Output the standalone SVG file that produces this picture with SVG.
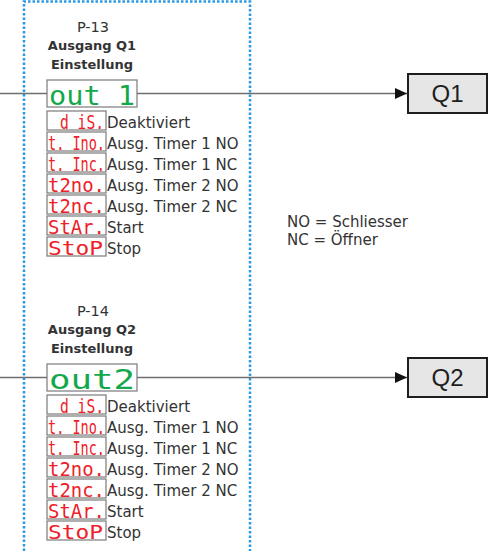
<svg xmlns="http://www.w3.org/2000/svg" width="493" height="551" viewBox="0 0 493 551">
  <style>
    .frame { fill: none; stroke: #2a98e2; stroke-width: 2.5; stroke-dasharray: 2.5 2; }
    .wire { fill: none; stroke: #6e6e6e; stroke-width: 1.5; }
    .title { font-family: "DejaVu Sans", sans-serif; font-size: 14.5px; fill: #333; text-anchor: middle; }
    .title-b { font-family: "DejaVu Sans", sans-serif; font-size: 13px; font-weight: bold; fill: #333; text-anchor: middle; }
    .lbl { font-family: "DejaVu Sans", sans-serif; font-size: 15px; fill: #333; }
    .disp { fill: #fff; stroke: #7a7a7a; stroke-width: 1.2; }
    .seg-g { font-family: "DejaVu Sans Mono", monospace; font-size: 27px; fill: #13a84a; }
    .seg-r { font-family: "DejaVu Sans Mono", monospace; font-size: 19px; fill: #ee2028; }
    .out { fill: #e6e6e6; stroke: #1e1e1e; stroke-width: 2; }
    .out-t { font-family: "Liberation Sans", sans-serif; font-size: 24px; fill: #1e1e1e; text-anchor: middle; }
  </style>
  <defs>
    <marker id="arrow" markerWidth="12" markerHeight="11" refX="12" refY="5.5" orient="auto" markerUnits="userSpaceOnUse">
      <path d="M0,0 L12,5.5 L0,11 Z" fill="#111"/>
    </marker>
    <!-- selectable options shown below each parameter's value display -->
    <g id="optionList">
      <rect class="disp" x="47" y="111" width="59" height="19"/>
      <text class="seg-r" x="104" y="128.5" text-anchor="end" textLength="44" lengthAdjust="spacingAndGlyphs">d iS.</text>
      <text class="lbl" x="107" y="128">Deaktiviert</text>
      <rect class="disp" x="47" y="132" width="59" height="19"/>
      <text class="seg-r" x="48" y="149.5" textLength="57" lengthAdjust="spacingAndGlyphs">t. Ino.</text>
      <text class="lbl" x="107" y="149">Ausg. Timer 1 NO</text>
      <rect class="disp" x="47" y="153" width="59" height="19"/>
      <text class="seg-r" x="48" y="170.5" textLength="57" lengthAdjust="spacingAndGlyphs">t. Inc.</text>
      <text class="lbl" x="107" y="170">Ausg. Timer 1 NC</text>
      <rect class="disp" x="47" y="174" width="59" height="19"/>
      <text class="seg-r" x="48" y="191.5" textLength="57" lengthAdjust="spacingAndGlyphs">t2no.</text>
      <text class="lbl" x="107" y="191">Ausg. Timer 2 NO</text>
      <rect class="disp" x="47" y="195" width="59" height="19"/>
      <text class="seg-r" x="48" y="212.5" textLength="57" lengthAdjust="spacingAndGlyphs">t2nc.</text>
      <text class="lbl" x="107" y="212">Ausg. Timer 2 NC</text>
      <rect class="disp" x="47" y="216" width="59" height="19"/>
      <text class="seg-r" x="48" y="233.5" textLength="57" lengthAdjust="spacingAndGlyphs">StAr.</text>
      <text class="lbl" x="107" y="233">Start</text>
      <rect class="disp" x="47" y="237" width="59" height="19"/>
      <text class="seg-r" x="48" y="254.5" textLength="55" lengthAdjust="spacingAndGlyphs">StoP</text>
      <text class="lbl" x="107" y="254">Stop</text>
    </g>
  </defs>

  <!-- dotted frame around the parameter column -->
  <path class="frame" d="M24,551 V1.5 H250 V551"/>

  <!-- connectors -->
  <g id="connectors">
    <line class="wire" x1="0" y1="93.5" x2="47" y2="93.5"/>
    <line class="wire" x1="137" y1="93.5" x2="407" y2="93.5" marker-end="url(#arrow)"/>
    <line class="wire" x1="0" y1="377.5" x2="47" y2="377.5"/>
    <line class="wire" x1="137" y1="377.5" x2="407" y2="377.5" marker-end="url(#arrow)"/>
  </g>

  <!-- P-13: output Q1 setting -->
  <g id="p13">
    <text class="title" x="93" y="32">P-13</text>
    <text class="title-b" x="92" y="50">Ausgang Q1</text>
    <text class="title-b" x="92" y="69">Einstellung</text>
    <rect class="disp" x="47" y="80" width="90" height="27"/>
    <text class="seg-g" x="49" y="104.5" textLength="86" lengthAdjust="spacingAndGlyphs">out 1</text>
    <use href="#optionList"/>
  </g>

  <!-- P-14: output Q2 setting -->
  <g id="p14">
    <text class="title" x="93" y="316">P-14</text>
    <text class="title-b" x="92" y="334">Ausgang Q2</text>
    <text class="title-b" x="92" y="353">Einstellung</text>
    <rect class="disp" x="47" y="364" width="90" height="27"/>
    <text class="seg-g" x="49" y="388.5" textLength="86" lengthAdjust="spacingAndGlyphs">out2</text>
    <use href="#optionList" transform="translate(0,284)"/>
  </g>

  <!-- outputs -->
  <g id="q1">
    <rect class="out" x="408" y="74" width="79" height="39"/>
    <text class="out-t" x="447.5" y="102">Q1</text>
  </g>
  <g id="q2">
    <rect class="out" x="408" y="358" width="79" height="39"/>
    <text class="out-t" x="447.5" y="386">Q2</text>
  </g>

  <!-- legend -->
  <g id="legend">
    <text class="lbl" x="287" y="227">NO = Schliesser</text>
    <text class="lbl" x="287" y="245">NC = Öffner</text>
  </g>
</svg>
